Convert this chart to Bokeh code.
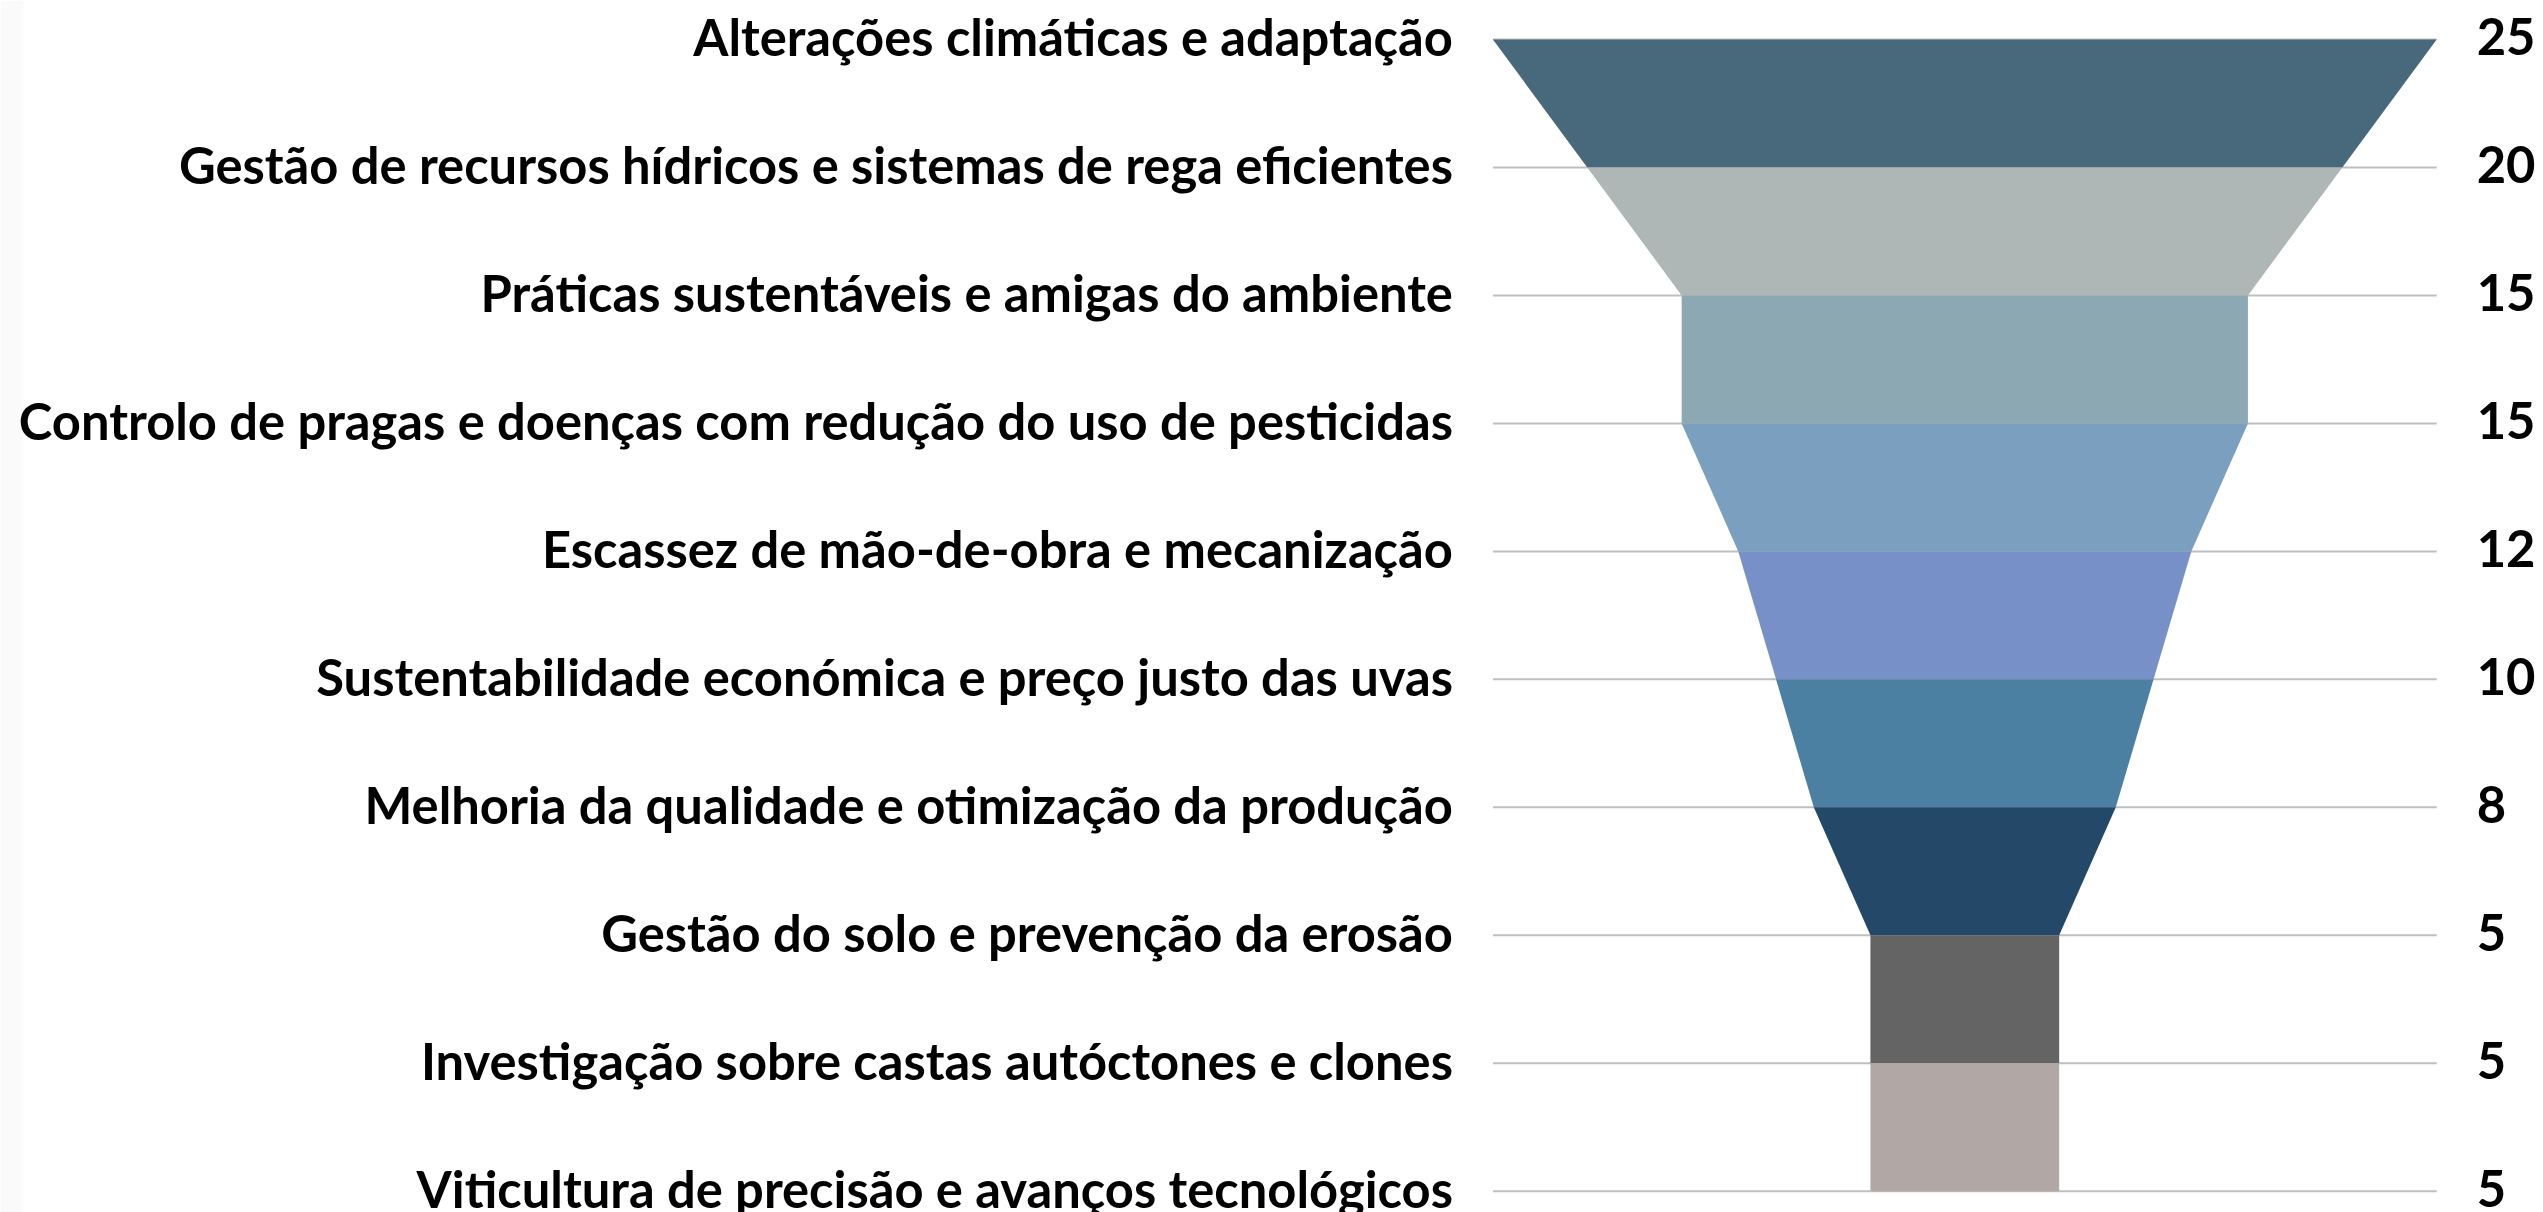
from bokeh.plotting import figure
from bokeh.models import Range1d, ColumnDataSource, BoxAnnotation
from bokeh.core.properties import value
from bokeh.embed import file_html
from bokeh.resources import INLINE

categories = [
    "Alterações climáticas e adaptação",
    "Gestão de recursos hídricos e sistemas de rega eficientes",
    "Práticas sustentáveis e amigas do ambiente",
    "Controlo de pragas e doenças com redução do uso de pesticidas",
    "Escassez de mão-de-obra e mecanização",
    "Sustentabilidade económica e preço justo das uvas",
    "Melhoria da qualidade e otimização da produção",
    "Gestão do solo e prevenção da erosão",
    "Investigação sobre castas autóctones e clones",
    "Viticultura de precisão e avanços tecnológicos",
]
values = [25, 20, 15, 15, 12, 10, 8, 5, 5, 5]
segment_colors = ["#48687C", "#AEB7B5", "#8CA8B3", "#7B9FBE", "#7790C8",
                  "#4C80A2", "#244868", "#646464", "#B1A8A6"]

W, H = 2543, 1212
unit = 37.75         # px per value unit
cx = 1964.3          # funnel centre in px
row = 127.97         # px between levels
top = 39             # px of first level

p = figure(width=W, height=H, output_backend="svg", toolbar_location=None,
           x_range=Range1d(-cx / unit, (W - cx) / unit),
           y_range=Range1d((H - top) / row, -top / row),
           min_border=0, outline_line_color=None)
p.axis.visible = False
p.grid.visible = False
p.background_fill_color = "white"
p.border_fill_color = "white"

p.add_layout(BoxAnnotation(left=0, right=23, left_units="screen", right_units="screen",
                           fill_color="#FAFAFA", fill_alpha=1, line_color=None,
                           level="underlay"))

n = len(values)
vmax = max(values)
levels = list(range(n))

# grid lines
p.segment(x0=[-vmax / 2] * n, x1=[vmax / 2] * n, y0=levels, y1=levels,
          line_color="#BFBFBF", line_width=2)

# funnel segments
xs, ys = [], []
for i in range(n - 1):
    a, b = values[i] / 2, values[i + 1] / 2
    xs.append([-a, a, b, -b])
    ys.append([i, i, i + 1, i + 1])
p.patches(xs=xs, ys=ys, fill_color=segment_colors, line_color=None)

src = ColumnDataSource(dict(y=levels, cat=categories,
                            val=[str(v) for v in values],
                            xl=[-vmax / 2] * n, xr=[vmax / 2] * n))
p.text(x="xl", y="y", text="cat", source=src, text_align="right",
       text_baseline="middle", x_offset=-40, y_offset=-3, text_font=value("Lato"),
       text_font_style="bold", text_font_size="50.7px", text_color="#000000")
p.text(x="xr", y="y", text="val", source=src, text_align="left",
       text_baseline="middle", x_offset=40, y_offset=-3, text_font=value("Lato"),
       text_font_style="bold", text_font_size="50.7px", text_color="#000000")

open("out.html", "w").write(file_html(p, INLINE))
